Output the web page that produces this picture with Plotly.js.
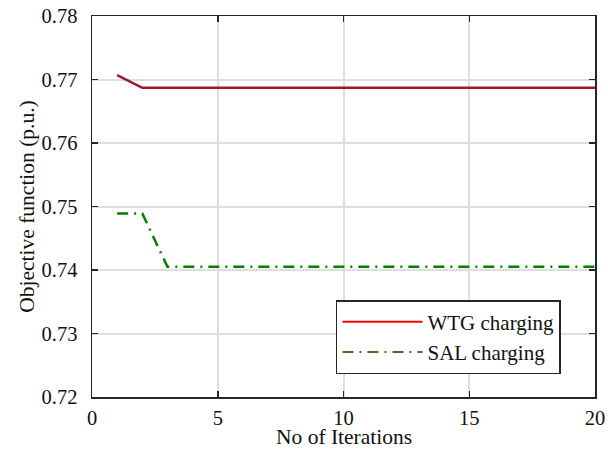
<!DOCTYPE html>
<html>
<head>
<meta charset="utf-8">
<script src="https://cdn.plot.ly/plotly-3.0.1.min.js"></script>
<style>html,body{margin:0;padding:0;background:#fff;}#chart{width:608px;height:450px;}</style>
</head>
<body>
<div id="chart"></div>
<script>
const iterations = [1,2,3,4,5,6,7,8,9,10,11,12,13,14,15,16,17,18,19,20];
const wtgCharging = [0.7707,0.7687,0.7687,0.7687,0.7687,0.7687,0.7687,0.7687,0.7687,0.7687,0.7687,0.7687,0.7687,0.7687,0.7687,0.7687,0.7687,0.7687,0.7687,0.7687];
const salCharging = [0.7489,0.7489,0.7405,0.7405,0.7405,0.7405,0.7405,0.7405,0.7405,0.7405,0.7405,0.7405,0.7405,0.7405,0.7405,0.7405,0.7405,0.7405,0.7405,0.7405];
const seriesNames = ['WTG charging','SAL charging'];
const xTicks = [0,5,10,15,20];
const yTicks = [0.72,0.73,0.74,0.75,0.76,0.77,0.78];
const xTitle = 'No of Iterations';
const yTitle = 'Objective function (p.u.)';

const family = 'Liberation Serif';
const tickFont = {family:family, size:20.5, color:'#111'};
const xTickFont = {family:family, size:20.5, color:'#111'};
const titleFont = {family:family, size:21.5, color:'#111'};
const legendFont = {family:family, size:21, color:'#111'};
const dashDot = '11px,6px,2px,6px';

const traces = [
  {x:iterations, y:wtgCharging, mode:'lines', line:{color:'#a2142f', width:2.5}, showlegend:false, name:seriesNames[0]},
  {x:iterations, y:salCharging, mode:'lines', line:{color:'#008000', width:2.5, dash:dashDot}, showlegend:false, name:seriesNames[1]},
  {x:[null], y:[null], mode:'lines', line:{color:'#ff0000', width:2}, name:seriesNames[0]},
  {x:[null], y:[null], mode:'lines', line:{color:'#4a6b2a', width:2, dash:dashDot}, name:seriesNames[1]}
];

const axisCommon = {
  showline:true, linecolor:'#262626', linewidth:1.5, mirror:'ticks',
  ticks:'inside', ticklen:6, tickwidth:1.5, tickcolor:'#262626',
  showgrid:true, gridcolor:'#dedede', gridwidth:2, zeroline:false,
  tickfont:tickFont
};

const layout = {
  width:608, height:450,
  margin:{l:92, r:13, t:16, b:53},
  paper_bgcolor:'#fff', plot_bgcolor:'#fff',
  font:tickFont,
  xaxis:Object.assign({}, axisCommon, {range:[0,20], tickvals:xTicks, ticktext:xTicks.map(String),
    tickfont:xTickFont, ticklabelstandoff:2}),
  yaxis:Object.assign({}, axisCommon, {range:[0.72,0.78], tickvals:yTicks, ticktext:yTicks.map(v=>v.toFixed(2)),
    ticklabelstandoff:9,
    title:{text:yTitle, font:titleFont, standoff:1}}),
  annotations:[{text:xTitle, xref:'paper', yref:'paper', x:0.5, y:0, xanchor:'center', yanchor:'middle',
    yshift:-40, showarrow:false, font:titleFont, borderpad:0}],
  legend:{x:0.485, y:0.06, xanchor:'left', yanchor:'bottom', bgcolor:'#fff', bordercolor:'#262626', borderwidth:1.5,
    font:legendFont, tracegroupgap:0, itemwidth:80},
  showlegend:true
};

Plotly.newPlot('chart', traces, layout, {displayModeBar:false, staticPlot:true});
</script>
</body>
</html>
